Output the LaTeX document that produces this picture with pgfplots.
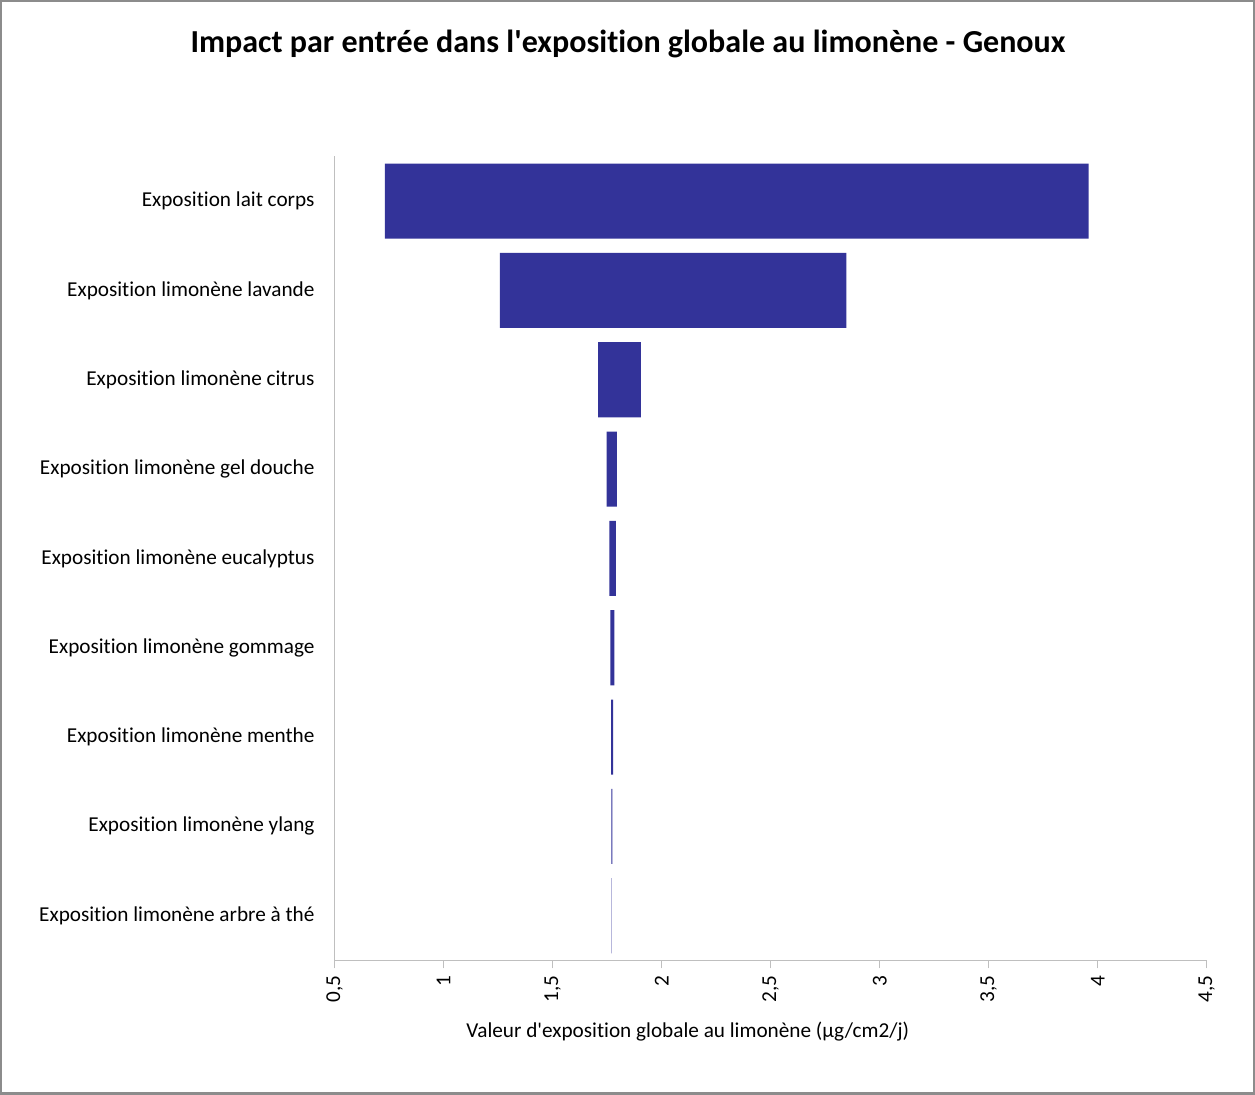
\documentclass[border=0pt]{standalone}
\usepackage{pgfplots}
\usepackage{pgfplotstable}
\pgfplotsset{compat=1.18}
\usepackage{fontspec}
\setmainfont{Carlito}[Ligatures={TeXOff,CommonOff}]
\definecolor{barblue}{RGB}{51,51,153}
\definecolor{axgray}{RGB}{191,191,191}
\definecolor{framegray}{RGB}{140,140,140}
\pgfplotstableread{
low high
0.730 3.958
1.258 2.847
1.708 1.905
1.748 1.794
1.760 1.790
1.765 1.783
1.768 1.777
1.769 1.774
1.770 1.772
}\data
\begin{document}
\begin{tikzpicture}
\begin{axis}[
  at={(0,0)}, anchor=south west,
  scale only axis, width=435.5pt, height=401.5pt,
  xmin=0.5, xmax=4.5, ymin=-0.5, ymax=8.5,
  y dir=reverse,
  xbar stacked, bar width=37.5pt,
  axis x line*=bottom, axis y line*=left,
  axis line style={axgray, line width=0.6pt},
  x axis line style={-}, y axis line style={-},
  xtick={0.5,1,...,4.5},
  xtick style={axgray, line width=0.6pt},
  tick align=outside,
  major tick length=4pt,
  ytick={0,...,8},
  y tick style={draw=none},
  yticklabels={Exposition lait corps, Exposition limonène lavande, Exposition limonène citrus, Exposition limonène gel douche, Exposition limonène eucalyptus, Exposition limonène gommage, Exposition limonène menthe, Exposition limonène ylang, Exposition limonène arbre à thé},
  yticklabel style={font=\fontsize{10.6}{12}\selectfont, anchor=east, xshift=-2.5pt},
  xticklabel style={font=\fontsize{10.6}{12}\selectfont, rotate=90, anchor=east},
  /pgf/number format/use comma,
  /pgf/number format/assume math mode=true,
  xlabel={Valeur d'exposition globale au limonène (µg/cm2/j)},
  xlabel style={font=\fontsize{10.6}{12}\selectfont, at={(axis description cs:0.405,0)}, yshift=-35.5pt, anchor=center},
  clip=false,
]
\addplot[draw=none, fill=none] table[x=low, y expr=\coordindex] {\data};
\addplot[draw=none, fill=barblue] table[x expr=\thisrow{high}-\thisrow{low}, y expr=\coordindex] {\data};
\end{axis}
\node[font=\fontsize{16}{18}\selectfont\bfseries] at (146.5pt,457.5pt) {Impact par entrée dans l'exposition globale au limonène - Genoux};
\draw[framegray, line width=1.2pt] (-166.5pt,-66.5pt) rectangle (459pt,479pt);
\end{tikzpicture}
\end{document}
